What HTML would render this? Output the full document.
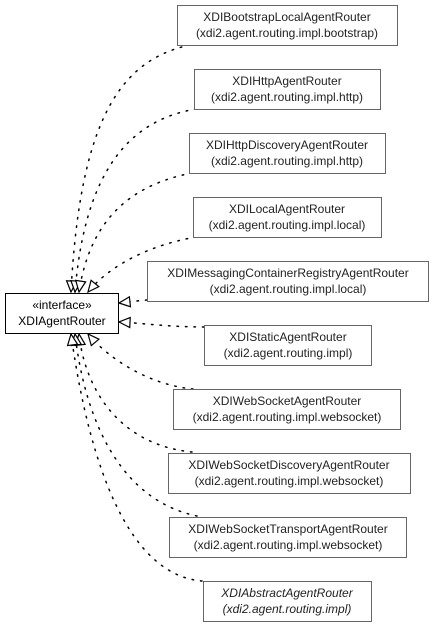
<!DOCTYPE html>
<html><head><style>
body{margin:0;background:#fff;width:432px;height:627px;overflow:hidden}
svg{display:block}
text{font-family:"Liberation Sans",sans-serif;font-size:12px;fill:#222}
.b{fill:#fff;stroke:#666;stroke-width:1}
.e{fill:none;stroke:#000;stroke-width:1.5;stroke-dasharray:1.5 7;stroke-linecap:round}
.a{fill:#fff;stroke:#000;stroke-width:1.2}
</style></head><body>
<svg width="432" height="627" viewBox="0 0 432 627">
<defs><marker id="m" markerWidth="14" markerHeight="14" refX="12" refY="6" orient="auto" markerUnits="userSpaceOnUse"><path class="a" d="M12,6 L1,1 L1,11 Z"/></marker></defs>
<path class="e" marker-end="url(#m)" d="M190,45 C120,60 80,120 71,292"/>
<path class="e" marker-end="url(#m)" d="M196,109 C130,120 85,170 75,292"/>
<path class="e" marker-end="url(#m)" d="M192,173 C130,185 90,220 79,292"/>
<path class="e" marker-end="url(#m)" d="M196,237 C150,245 110,265 88,292"/>
<path class="e" marker-end="url(#m)" d="M147,300 C135,301 128,302 119,303"/>
<path class="e" marker-end="url(#m)" d="M204,327 C170,327 140,323 119,322"/>
<path class="e" marker-end="url(#m)" d="M193,389 C150,385 110,360 88,334"/>
<path class="e" marker-end="url(#m)" d="M192,452 C120,445 85,390 79,334"/>
<path class="e" marker-end="url(#m)" d="M197,516 C120,500 85,420 75,334"/>
<path class="e" marker-end="url(#m)" d="M202,581 C130,575 90,470 71,334"/>
<rect x="5.5" y="293.5" width="113" height="40" fill="#fff" stroke="#000"/>
<text x="62" y="309" text-anchor="middle" style="fill:#000">«interface»</text>
<text x="62" y="325" text-anchor="middle" style="fill:#000">XDIAgentRouter</text>
<g text-anchor="middle">
<rect class="b" x="177.5" y="5.5" width="220" height="40"/><text x="287" y="21">XDIBootstrapLocalAgentRouter</text><text x="287" y="37">(xdi2.agent.routing.impl.bootstrap)</text>
<rect class="b" x="194.5" y="69.5" width="186" height="40"/><text x="287" y="85">XDIHttpAgentRouter</text><text x="287" y="101">(xdi2.agent.routing.impl.http)</text>
<rect class="b" x="189.5" y="133.5" width="196" height="40"/><text x="287" y="149">XDIHttpDiscoveryAgentRouter</text><text x="287" y="165">(xdi2.agent.routing.impl.http)</text>
<rect class="b" x="193.5" y="197.5" width="188" height="40"/><text x="287" y="213">XDILocalAgentRouter</text><text x="287" y="229">(xdi2.agent.routing.impl.local)</text>
<rect class="b" x="147.5" y="261.5" width="281" height="40"/><text x="288" y="277">XDIMessagingContainerRegistryAgentRouter</text><text x="288" y="293">(xdi2.agent.routing.impl.local)</text>
<rect class="b" x="204.5" y="325.5" width="167" height="40"/><text x="288" y="341">XDIStaticAgentRouter</text><text x="288" y="357">(xdi2.agent.routing.impl)</text>
<rect class="b" x="173.5" y="389.5" width="227" height="40"/><text x="287" y="405">XDIWebSocketAgentRouter</text><text x="287" y="421">(xdi2.agent.routing.impl.websocket)</text>
<rect class="b" x="168.5" y="453.5" width="242" height="40"/><text x="289" y="469">XDIWebSocketDiscoveryAgentRouter</text><text x="289" y="485">(xdi2.agent.routing.impl.websocket)</text>
<rect class="b" x="169.5" y="517.5" width="237" height="40"/><text x="288" y="533">XDIWebSocketTransportAgentRouter</text><text x="288" y="549">(xdi2.agent.routing.impl.websocket)</text>
<rect class="b" x="203.5" y="581.5" width="168" height="40"/><text x="287" y="597" font-style="italic">XDIAbstractAgentRouter</text><text x="287" y="613" font-style="italic">(xdi2.agent.routing.impl)</text>
</g>
</svg>
</body></html>
